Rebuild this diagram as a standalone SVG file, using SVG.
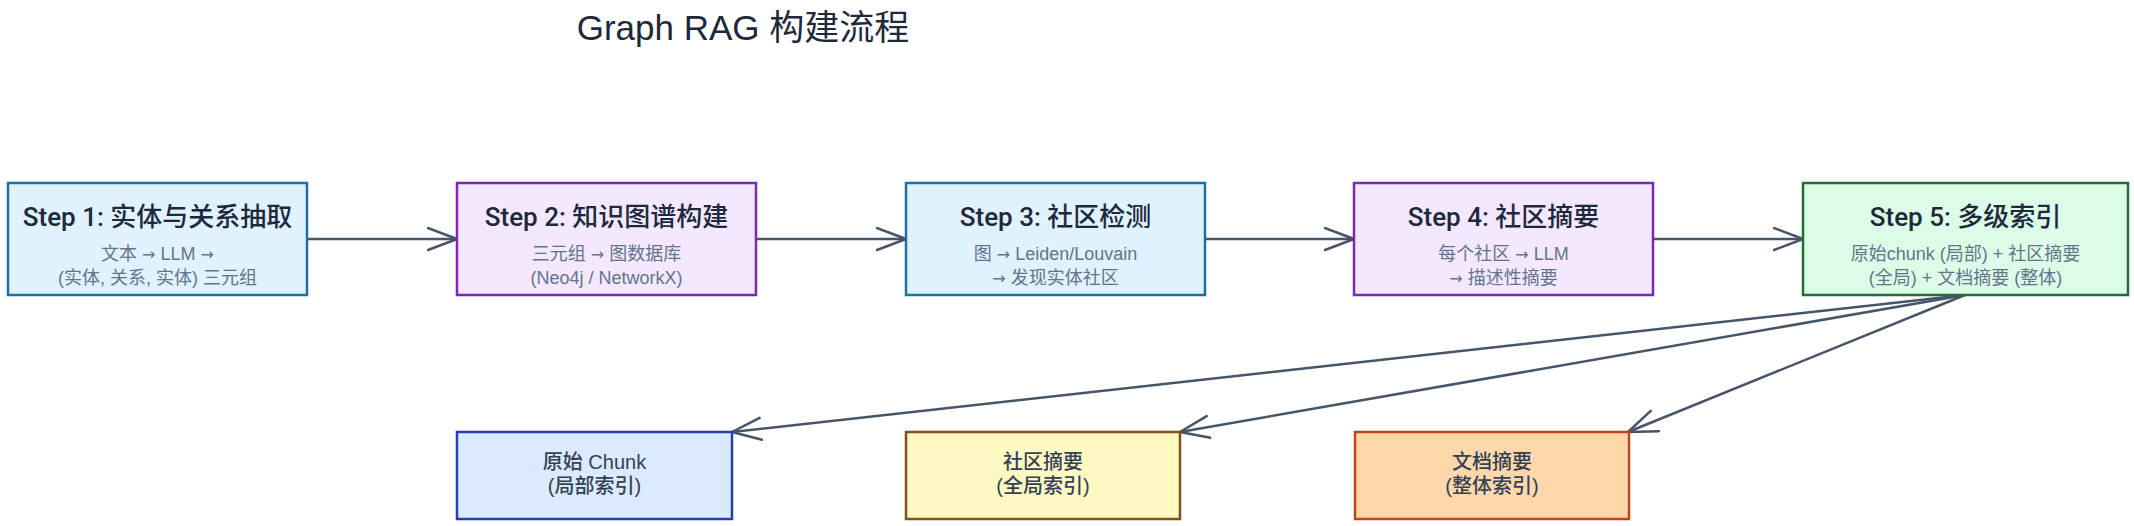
<svg xmlns="http://www.w3.org/2000/svg" width="2134" height="526" viewBox="0 0 2134 526">
<style>
.t{font-family:"Liberation Sans","Noto Sans CJK SC",sans-serif;}
.title{font-size:35px;fill:#1e293b;}
.h{font-family:Roboto,"Noto Sans CJK SC",sans-serif;font-size:26px;fill:#1e293b;font-weight:500;}
.s{font-size:18px;fill:#64748b;}
.b{font-size:20px;fill:#334155;font-weight:500;}
.ar{font-family:"DejaVu Sans",sans-serif;font-size:16px;}
.blue{fill:#e0f2fe;stroke:#1f6fa3;stroke-width:2.5;}
.purple{fill:#f3e8ff;stroke:#7b2aaf;stroke-width:2.5;}
.green{fill:#dcfce7;stroke:#256b38;stroke-width:2.5;}
.b1{fill:#dbeafe;stroke:#2541b0;stroke-width:2.5;}
.b2{fill:#fef9c3;stroke:#84501a;stroke-width:2.5;}
.b3{fill:#fed7aa;stroke:#c4431a;stroke-width:2.5;}
.c{fill:none;stroke:#475569;stroke-width:2.5;}
</style>
<defs>
<marker id="ah" markerUnits="userSpaceOnUse" markerWidth="34" markerHeight="26" refX="30" refY="12" orient="auto" viewBox="0 0 34 26">
<path d="M1,1 L30,12 L1,23" fill="none" stroke="#475569" stroke-width="2.5" stroke-linecap="round" stroke-linejoin="round"/>
</marker>
</defs>
<rect width="2134" height="526" fill="#ffffff"/>
<text class="t title" x="743" y="40" text-anchor="middle">Graph RAG 构建流程</text>
<g id="connectors">
<line class="c" x1="307" y1="239" x2="457" y2="239" marker-end="url(#ah)"/>
<line class="c" x1="756" y1="239" x2="906" y2="239" marker-end="url(#ah)"/>
<line class="c" x1="1205" y1="239" x2="1354" y2="239" marker-end="url(#ah)"/>
<line class="c" x1="1653" y1="239" x2="1803" y2="239" marker-end="url(#ah)"/>
<line class="c" x1="1965" y1="295" x2="732" y2="432" marker-end="url(#ah)"/>
<line class="c" x1="1965" y1="295" x2="1180" y2="432" marker-end="url(#ah)"/>
<line class="c" x1="1965" y1="295" x2="1628" y2="432" marker-end="url(#ah)"/>
</g>
<g id="step1">
<rect class="blue" x="8" y="183" width="299" height="112"/>
<text class="t h" x="157.5" y="226" text-anchor="middle">Step 1: 实体与关系抽取</text>
<text class="t s" x="157.5" y="260" text-anchor="middle">文本 <tspan class="ar">→</tspan> LLM <tspan class="ar">→</tspan></text>
<text class="t s" x="157.5" y="284" text-anchor="middle">(实体, 关系, 实体) 三元组</text>
</g>
<g id="step2">
<rect class="purple" x="457" y="183" width="299" height="112"/>
<text class="t h" x="606.5" y="226" text-anchor="middle">Step 2: 知识图谱构建</text>
<text class="t s" x="606.5" y="260" text-anchor="middle">三元组 <tspan class="ar">→</tspan> 图数据库</text>
<text class="t s" x="606.5" y="284" text-anchor="middle">(Neo4j / NetworkX)</text>
</g>
<g id="step3">
<rect class="blue" x="906" y="183" width="299" height="112"/>
<text class="t h" x="1055.5" y="226" text-anchor="middle">Step 3: 社区检测</text>
<text class="t s" x="1055.5" y="260" text-anchor="middle">图 <tspan class="ar">→</tspan> Leiden/Louvain</text>
<text class="t s" x="1055.5" y="284" text-anchor="middle"><tspan class="ar">→</tspan> 发现实体社区</text>
</g>
<g id="step4">
<rect class="purple" x="1354" y="183" width="299" height="112"/>
<text class="t h" x="1503.5" y="226" text-anchor="middle">Step 4: 社区摘要</text>
<text class="t s" x="1503.5" y="260" text-anchor="middle">每个社区 <tspan class="ar">→</tspan> LLM</text>
<text class="t s" x="1503.5" y="284" text-anchor="middle"><tspan class="ar">→</tspan> 描述性摘要</text>
</g>
<g id="step5">
<rect class="green" x="1803" y="183" width="325" height="112"/>
<text class="t h" x="1965.5" y="226" text-anchor="middle">Step 5: 多级索引</text>
<text class="t s" x="1965.5" y="260" text-anchor="middle">原始chunk (局部) + 社区摘要</text>
<text class="t s" x="1965.5" y="284" text-anchor="middle">(全局) + 文档摘要 (整体)</text>
</g>
<g id="chunk">
<rect class="b1" x="457" y="432" width="275" height="87"/>
<text class="t b" x="594.5" y="469" text-anchor="middle">原始 Chunk</text>
<text class="t b" x="594.5" y="493" text-anchor="middle">(局部索引)</text>
</g>
<g id="community">
<rect class="b2" x="906" y="432" width="274" height="87"/>
<text class="t b" x="1043" y="469" text-anchor="middle">社区摘要</text>
<text class="t b" x="1043" y="493" text-anchor="middle">(全局索引)</text>
</g>
<g id="document">
<rect class="b3" x="1355" y="432" width="274" height="87"/>
<text class="t b" x="1492" y="469" text-anchor="middle">文档摘要</text>
<text class="t b" x="1492" y="493" text-anchor="middle">(整体索引)</text>
</g>
</svg>
